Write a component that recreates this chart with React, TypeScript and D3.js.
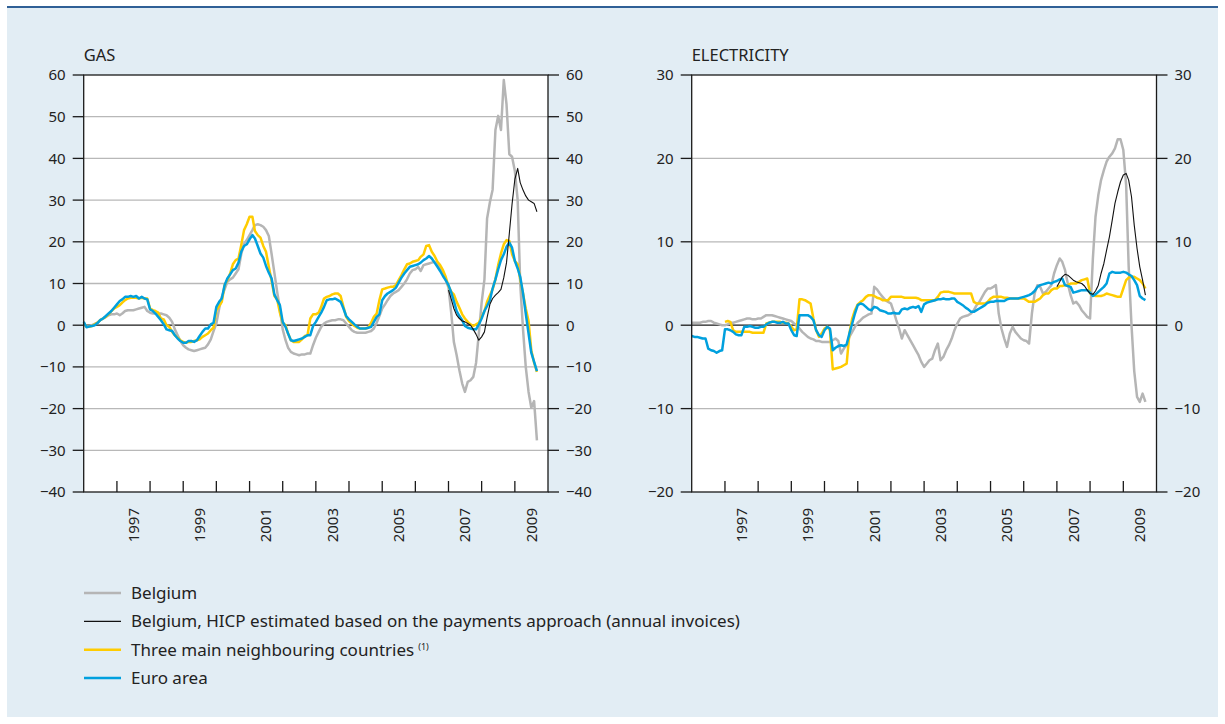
import React from 'react';
import * as d3 from 'd3';

// Monthly year-on-year changes (%), gas
const gasBelgium = [
  0.2, -0.3, -0.3, 0.0, 0.3, 0.6, 1.2, 1.6, 2.0, 2.4, 2.6, 2.6,
  2.8, 2.4, 2.8, 3.4, 3.6, 3.6, 3.6, 3.8, 4.0, 4.2, 4.4, 3.4,
  3.0, 2.8, 2.8, 2.8, 2.8, 2.6, 2.4, 1.8, 0.8, -1.0, -2.4, -3.8,
  -4.8, -5.4, -5.8, -6.0, -6.2, -6.0, -5.8, -5.6, -5.4, -4.6, -3.4, -1.4,
  0.4, 4.0, 6.8, 8.6, 10.4, 11.0, 11.4, 12.4, 13.4, 17.0, 19.6, 20.4,
  21.6, 22.8, 24.0, 24.2, 24.0, 23.6, 22.8, 21.4, 17.0, 12.6, 8.0, 4.0,
  -1.0, -3.6, -5.4, -6.4, -6.8, -7.0, -7.2, -7.0, -7.0, -6.8, -6.8, -4.8,
  -3.0, -1.6, -0.4, 0.4, 0.8, 1.0, 1.2, 1.2, 1.4, 1.4, 1.2, 0.4,
  -0.4, -1.2, -1.6, -1.8, -1.8, -1.8, -1.8, -1.6, -1.4, -0.8, 0.6, 2.2,
  4.0, 5.0, 6.0, 7.0, 7.6, 8.0, 8.4, 9.2, 10.0, 11.0, 12.4, 13.2,
  13.4, 14.0, 13.0, 14.4, 14.6, 14.8, 15.0, 15.2, 14.6, 13.6, 12.4, 10.8,
  9.0, 2.8, -4.0, -7.2, -10.8, -14.0, -16.0, -13.6, -13.2, -12.4, -9.0, -2.0,
  5.4, 11.0, 25.6, 29.5, 32.5, 46.8, 50.2, 46.8, 58.8, 53.0, 41.0, 40.4,
  37.0, 30.0, 10.0, -1.0, -10.0, -16.0, -19.8, -18.2, -27.6,
];
const gasBelgiumPayments = [
  8.4, 6.2, 4.0, 2.4, 1.6, 1.0, 0.8, 0.4, 0.0, -1.0, -2.2, -3.6,
  -2.8, -1.6, 1.8, 5.0, 6.4, 7.2, 7.8, 8.6, 11.4, 15.0, 22.0, 29.0,
  35.0, 37.6, 34.2, 32.4, 31.0, 30.0, 29.6, 29.2, 27.2,
];
const gasNeighbours = [
  0.5, -0.4, -0.4, -0.2, 0.2, 0.6, 1.2, 1.6, 2.0, 2.6, 3.4, 4.0,
  4.4, 4.8, 5.4, 6.0, 6.4, 6.6, 6.6, 6.6, 6.4, 6.6, 6.4, 6.4,
  4.0, 3.6, 3.4, 3.0, 1.6, 1.4, 0.0, -0.4, -1.6, -2.4, -3.0, -3.6,
  -4.0, -4.2, -4.0, -4.0, -3.8, -3.6, -3.4, -2.8, -2.4, -2.0, -1.2, -0.6,
  3.6, 4.6, 5.6, 9.6, 10.8, 12.4, 14.6, 15.6, 16.0, 19.2, 22.8, 24.2,
  26.0, 26.0, 22.6, 21.6, 21.0, 19.0, 17.6, 14.0, 10.6, 7.0, 6.2, 3.0,
  0.6, 0.0, -2.0, -3.6, -4.0, -4.0, -4.0, -3.4, -2.6, -2.4, 1.6, 2.6,
  2.6, 3.0, 4.4, 6.4, 6.8, 7.0, 7.4, 7.6, 7.6, 7.0, 4.4, 2.0,
  1.0, 0.4, -0.2, -0.6, -0.8, -0.8, -0.8, -0.6, 0.6, 2.0, 2.8, 6.0,
  8.6, 8.8, 9.0, 9.2, 9.2, 9.6, 10.8, 12.0, 13.4, 14.6, 14.8, 15.2,
  15.4, 15.6, 16.4, 17.0, 19.0, 19.2, 17.6, 16.6, 15.2, 14.4, 13.2, 11.6,
  9.4, 8.0, 7.4, 5.6, 4.2, 2.6, 1.6, 0.8, 0.2, -0.2, 0.2, 0.6,
  2.0, 3.4, 5.6, 7.2, 8.6, 11.0, 14.4, 17.2, 19.4, 20.4, 20.2, 17.0,
  15.4, 14.6, 11.0, 7.6, 4.0, 1.0, -6.0, -9.0, -11.2,
];
const gasEuroArea = [
  0.8, -0.5, -0.3, -0.2, 0.0, 0.5, 1.2, 1.6, 2.2, 2.8, 3.4, 4.2,
  5.0, 5.8, 6.2, 6.8, 6.8, 7.0, 6.8, 7.0, 6.4, 6.8, 6.4, 6.2,
  3.8, 3.4, 2.8, 2.0, 1.2, 0.2, -1.0, -1.2, -1.4, -2.4, -3.2, -3.8,
  -4.2, -4.2, -3.8, -3.8, -4.0, -3.6, -2.6, -1.6, -0.8, -0.8, 0.2, 0.6,
  4.4, 5.6, 6.4, 9.6, 11.2, 12.2, 13.2, 13.6, 15.0, 17.6, 19.0, 19.4,
  20.6, 21.6, 20.8, 19.0, 17.2, 16.2, 14.2, 12.6, 11.2, 7.4, 6.0, 4.8,
  0.8, -0.4, -2.0, -3.6, -3.8, -3.6, -3.4, -3.2, -2.8, -2.4, -2.4, -0.2,
  0.8, 2.0, 3.0, 4.4, 6.0, 6.2, 6.2, 6.4, 6.0, 5.6, 4.0, 2.2,
  1.4, 0.8, 0.2, -0.4, -0.8, -0.8, -0.8, -0.6, -0.4, 0.8, 2.0, 2.6,
  6.0, 7.0, 7.6, 8.0, 8.4, 9.0, 10.2, 11.4, 12.4, 13.2, 14.0, 14.2,
  14.4, 14.6, 15.0, 15.6, 16.0, 16.6, 16.0, 15.0, 14.0, 13.0, 11.8, 10.8,
  9.6, 7.8, 5.8, 3.4, 2.2, 1.2, -0.2, -0.6, -0.8, -1.0, -1.0, 0.2,
  1.6, 3.4, 4.6, 6.0, 8.8, 11.0, 13.4, 15.6, 17.0, 18.8, 19.8, 18.6,
  15.4, 13.6, 11.6, 7.6, 2.8, -2.0, -6.6, -8.8, -11.0,
];

// Monthly year-on-year changes (%), electricity
const elecBelgium = [
  0.3, 0.3, 0.3, 0.3, 0.4, 0.4, 0.5, 0.5, 0.3, 0.2, 0.1, 0.0,
  0.0, 0.1, 0.3, 0.3, 0.4, 0.5, 0.6, 0.7, 0.8, 0.8, 0.7, 0.7,
  0.8, 0.8, 1.0, 1.2, 1.2, 1.2, 1.1, 1.0, 0.9, 0.8, 0.7, 0.6,
  0.5, 0.2, 0.0, -0.4, -0.8, -1.1, -1.4, -1.6, -1.7, -1.9, -1.9, -2.0,
  -2.0, -2.0, -2.0, -1.8, -1.6, -1.9, -3.4, -2.8, -2.4, -1.4, -0.8, -0.2,
  0.3, 0.6, 0.9, 1.1, 1.3, 1.4, 4.6, 4.3, 3.8, 3.4, 3.0, 2.8,
  2.6, 1.6, 0.6, -0.4, -1.6, -0.6, -1.2, -1.8, -2.4, -3.0, -3.6, -4.4,
  -5.0, -4.6, -4.2, -4.0, -3.0, -2.2, -4.2, -3.8, -3.0, -2.4, -1.6, -0.6,
  0.2, 0.8, 1.0, 1.1, 1.2, 1.4, 1.8, 2.4, 2.8, 3.4, 4.0, 4.4,
  4.4, 4.6, 4.8, 1.4, -0.4, -1.6, -2.6, -1.0, -0.2, -0.8, -1.2, -1.6,
  -1.8, -1.9, -2.2, 1.4, 3.8, 4.8, 4.6, 3.8, 4.0, 4.4, 4.8, 6.2,
  7.2, 8.0, 7.6, 6.6, 5.0, 3.6, 2.6, 2.8, 2.4, 1.8, 1.4, 1.0,
  0.8, 8.0, 13.0, 15.6, 17.4, 18.6, 19.6, 20.2, 20.6, 21.2, 22.3, 22.3,
  21.0, 16.8, 7.0, 0.0, -5.5, -8.6, -9.2, -8.2, -9.2,
];
const elecBelgiumPayments = [
  4.6, 5.2, 5.8, 6.1, 6.0, 5.7, 5.4, 5.2, 5.1, 5.0, 4.7, 4.2,
  3.8, 3.7, 4.1, 4.8, 6.2, 7.4, 9.0, 10.6, 12.6, 14.6, 16.0, 17.2,
  18.0, 18.2, 17.4, 15.4, 12.0, 9.2, 7.0, 5.4, 3.6,
];
const elecNeighbours = [
  0.4, 0.5, 0.4, -0.6, -0.8, -0.8, -0.8, -0.8, -0.8, -0.8, -0.9, -0.9,
  -0.9, -0.9, -0.9, 0.2, 0.3, 0.4, 0.4, 0.4, 0.4, 0.3, 0.3, 0.2,
  -0.2, -0.6, -0.5, 3.1, 3.1, 3.0, 2.8, 2.6, 0.8, -0.6, -1.4, -1.0,
  -0.4, -0.2, -0.6, -5.3, -5.2, -5.1, -5.0, -4.8, -4.6, -1.0, 0.8, 1.8,
  2.5, 2.8, 3.0, 3.4, 3.6, 3.6, 3.5, 3.3, 3.2, 3.0, 3.0, 3.0,
  3.4, 3.4, 3.4, 3.4, 3.4, 3.3, 3.3, 3.3, 3.3, 3.3, 3.2, 3.0,
  3.0, 3.0, 3.0, 3.0, 3.0, 3.4, 3.9, 4.0, 4.0, 4.0, 3.9, 3.8,
  3.8, 3.8, 3.8, 3.8, 3.8, 3.8, 2.8, 2.6, 2.6, 2.6, 2.6, 2.8,
  3.2, 3.4, 3.4, 3.4, 3.4, 3.3, 3.3, 3.2, 3.2, 3.2, 3.2, 3.2,
  3.2, 3.0, 2.8, 2.8, 2.8, 3.0, 3.2, 3.6, 3.8, 3.8, 4.2, 4.4,
  4.4, 4.7, 4.7, 4.8, 4.8, 5.0, 5.0, 5.0, 5.2, 5.4, 5.5, 5.6,
  3.8, 3.6, 3.5, 3.5, 3.5, 3.6, 3.8, 3.7, 3.6, 3.5, 3.4, 3.4,
  4.4, 5.4, 5.7, 5.8, 5.8, 5.6, 5.4, 5.0, 4.4,
];
const elecEuroArea = [
  -1.3, -1.4, -1.4, -1.5, -1.6, -1.6, -2.8, -3.0, -3.1, -3.3, -3.1, -3.0,
  -0.5, -0.5, -0.6, -0.8, -1.1, -1.2, -1.2, -0.2, -0.2, -0.1, -0.2, -0.3,
  -0.3, -0.2, -0.2, 0.1, 0.3, 0.4, 0.4, 0.3, 0.3, 0.4, 0.2, 0.2,
  -0.6, -1.2, -1.3, 1.2, 1.2, 1.2, 1.2, 1.0, 0.6, -0.6, -1.2, -1.4,
  -0.6, -0.2, -0.4, -3.0, -2.7, -2.5, -2.4, -2.5, -2.3, -1.0, 0.2, 1.4,
  2.4, 2.6, 2.5, 2.2, 1.9, 1.8, 2.2, 2.1, 1.8, 1.7, 1.6, 1.4,
  1.4, 1.5, 1.4, 1.4, 1.9, 2.0, 1.9, 2.1, 2.2, 2.1, 2.3, 1.6,
  2.5, 2.7, 2.8, 2.9, 3.0, 3.1, 3.1, 3.2, 3.1, 3.1, 3.2, 3.2,
  2.8, 2.6, 2.4, 2.1, 1.9, 1.6, 1.6, 1.8, 2.0, 2.2, 2.4, 2.7,
  2.8, 2.8, 2.9, 2.9, 2.9, 2.9, 3.1, 3.2, 3.2, 3.2, 3.2, 3.3,
  3.4, 3.5, 3.6, 3.8, 4.1, 4.6, 4.8, 4.9, 5.0, 5.1, 5.0, 5.2,
  5.3, 5.5, 5.6, 4.8, 4.7, 4.6, 3.9, 4.0, 4.1, 4.2, 4.2, 4.2,
  3.9, 3.5, 3.7, 4.0, 4.3, 4.6, 5.0, 6.2, 6.4, 6.3, 6.3, 6.3,
  6.4, 6.3, 6.1, 5.9, 5.4, 4.8, 3.5, 3.2, 3.0,
];

const tickYears = d3.range(1997, 2010);
const labelYears = [1997, 1999, 2001, 2003, 2005, 2007, 2009];
const gasTicks = d3.range(-40, 61, 10);
const elecTicks = d3.range(-20, 31, 10);

const legendItems = [
  { key: 'be', label: 'Belgium' },
  { key: 'pay', label: 'Belgium, HICP estimated based on the payments approach (annual invoices)' },
  { key: 'nb', label: 'Three main neighbouring countries', note: '(1)' },
  { key: 'ea', label: 'Euro area' },
];

const styles: Record<string, { color: string; width: number }> = {
  be: { color: '#b5b5b5', width: 2.5 },
  pay: { color: '#111111', width: 1.1 },
  nb: { color: '#ffcc00', width: 2.5 },
  ea: { color: '#00a0de', width: 2.5 },
};

const FONT = '"Noto Sans", "Open Sans", sans-serif';
const TEXT = '#222222';
const TOP = 75;
const BOTTOM = 492;

type Pt = { date: Date; value: number };
const monthly = (year: number, values: number[]): Pt[] =>
  values.map((v, i) => ({ date: new Date(year, i, 1), value: v }));

type Series = { key: string; data: Pt[] };

const fmt = (t: number) => (t < 0 ? `\u2212${-t}` : `${t}`);

function Panel({ title, left, right, ticks, series }: {
  title: string; left: number; right: number; ticks: number[]; series: Series[];
}) {
  const x = d3.scaleTime()
    .domain([new Date(1996, 0, 1), new Date(2010, 0, 1)])
    .range([left, right]);
  const y = d3.scaleLinear()
    .domain([ticks[0], ticks[ticks.length - 1]])
    .range([BOTTOM, TOP]);
  const line = d3.line<Pt>()
    .x(d => x(d.date))
    .y(d => y(d.value));

  return (
    <g>
      <rect x={left} y={TOP} width={right - left} height={BOTTOM - TOP} fill="#ffffff" />
      {ticks.slice(1, -1).filter(t => t !== 0).map(t => (
        <line key={t} x1={left} x2={right} y1={y(t)} y2={y(t)} stroke="#b8b8b8" strokeWidth={1.3} />
      ))}
      <line x1={left} x2={right} y1={y(0)} y2={y(0)} stroke="#1a1a1a" strokeWidth={1.3} />
      {series.map(s => (
        <path key={s.key} d={line(s.data) || ''} fill="none"
          stroke={styles[s.key].color} strokeWidth={styles[s.key].width}
          strokeLinejoin="round" />
      ))}
      <rect x={left} y={TOP} width={right - left} height={BOTTOM - TOP}
        fill="none" stroke="#1a1a1a" strokeWidth={1.3} />
      {ticks.map(t => (
        <g key={t}>
          <line x1={left - 11} x2={left} y1={y(t)} y2={y(t)} stroke="#1a1a1a" strokeWidth={1.3} />
          <line x1={right} x2={right + 11} y1={y(t)} y2={y(t)} stroke="#1a1a1a" strokeWidth={1.3} />
          <text x={left - 18} y={y(t)} dy="0.36em" textAnchor="end">{fmt(t)}</text>
          <text x={right + 18} y={y(t)} dy="0.36em" textAnchor="start">{fmt(t)}</text>
        </g>
      ))}
      {tickYears.map(yr => (
        <line key={yr} x1={x(new Date(yr, 0, 1))} x2={x(new Date(yr, 0, 1))}
          y1={BOTTOM} y2={BOTTOM - 11} stroke="#1a1a1a" strokeWidth={1.3} />
      ))}
      {labelYears.map(yr => {
        const cx = x(new Date(yr, 6, 1));
        return (
          <text key={yr} transform={`translate(${cx},508) rotate(-90)`} dy="0.36em" textAnchor="end">{yr}</text>
        );
      })}
      <text x={left} y={61} fontSize={16.5}>{title}</text>
    </g>
  );
}

export default function App() {
  const gasSeries: Series[] = [
    { key: 'be', data: monthly(1996, gasBelgium) },
    { key: 'nb', data: monthly(1996, gasNeighbours) },
    { key: 'ea', data: monthly(1996, gasEuroArea) },
    { key: 'pay', data: monthly(2007, gasBelgiumPayments) },
  ];
  const elecSeries: Series[] = [
    { key: 'be', data: monthly(1996, elecBelgium) },
    { key: 'nb', data: monthly(1997, elecNeighbours) },
    { key: 'ea', data: monthly(1996, elecEuroArea) },
    { key: 'pay', data: monthly(2007, elecBelgiumPayments) },
  ];
  const legendY = d3.scalePoint<string>()
    .domain(legendItems.map(d => d.key))
    .range([593, 678]);

  return (
    <svg width={1225} height={724} style={{ position: 'absolute', left: 0, top: 0 }}
      fontFamily={FONT} fontSize={15} fill={TEXT}>
      <rect x={0} y={0} width={1225} height={724} fill="#ffffff" />
      <rect x={7} y={7} width={1211} height={710} fill="#e2edf4" />
      <line x1={7} x2={1218} y1={7} y2={7} stroke="#2f6096" strokeWidth={2} />
      <Panel title="GAS" left={83.7} right={548} ticks={gasTicks} series={gasSeries} />
      <Panel title="ELECTRICITY" left={691.7} right={1156.5} ticks={elecTicks} series={elecSeries} />
      {legendItems.map(item => {
        const ly = legendY(item.key) as number;
        return (
          <g key={item.key}>
            <line x1={84} x2={121} y1={ly} y2={ly} stroke={styles[item.key].color}
              strokeWidth={item.key === 'pay' ? 1.3 : 2.5} />
            <text x={131} y={ly} dy="0.36em" fontSize={17}>
              {item.label}
              {item.note && <tspan dx={4} dy="-0.6em" fontSize={9}>{item.note}</tspan>}
            </text>
          </g>
        );
      })}
    </svg>
  );
}
